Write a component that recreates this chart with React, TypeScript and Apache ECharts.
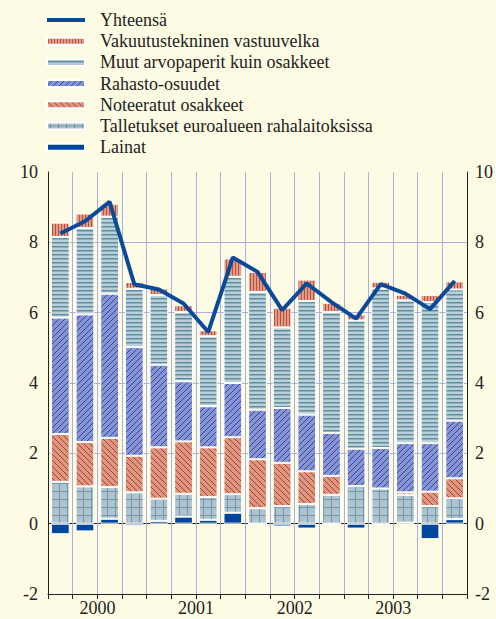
import React, { useEffect, useRef } from 'react';
import * as echarts from 'echarts';

const quarters = [
  '2000Q1', '2000Q2', '2000Q3', '2000Q4',
  '2001Q1', '2001Q2', '2001Q3', '2001Q4',
  '2002Q1', '2002Q2', '2002Q3', '2002Q4',
  '2003Q1', '2003Q2', '2003Q3', '2003Q4',
  '2004Q1',
];
const yearLabels = ['2000', '2001', '2002', '2003'];

const lainat = [-0.3, -0.22, 0.14, -0.07, 0.08, 0.2, 0.11, 0.31, 0, -0.08, -0.14, 0, -0.14, -0.02, 0.03, -0.44, 0.13];
const talletukset = [1.19, 1.06, 0.9, 0.89, 0.63, 0.65, 0.65, 0.53, 0.44, 0.5, 0.56, 0.82, 1.07, 1.0, 0.79, 0.5, 0.59];
const noteeratut = [1.36, 1.26, 1.4, 1.04, 1.46, 1.49, 1.41, 1.62, 1.39, 1.23, 0.93, 0.54, 0, 0, 0.07, 0.41, 0.57];
const rahasto = [3.31, 3.63, 4.1, 3.09, 2.35, 1.71, 1.17, 1.54, 1.41, 1.56, 1.61, 1.22, 1.06, 1.15, 1.4, 1.38, 1.64];
const muut = [2.29, 2.46, 2.19, 1.66, 1.98, 1.97, 1.99, 3.02, 3.35, 2.29, 3.23, 3.44, 3.65, 4.54, 4.06, 4.01, 3.73];
const vakuutus = [0.41, 0.41, 0.37, 0.19, 0.19, 0.19, 0.17, 0.52, 0.57, 0.56, 0.61, 0.26, 0.17, 0.19, 0.16, 0.2, 0.23];
const yhteensa = [8.25, 8.6, 9.15, 6.81, 6.66, 6.26, 5.45, 7.57, 7.16, 6.07, 6.83, 6.3, 5.83, 6.81, 6.54, 6.1, 6.9];

const FONT = 'Liberation Serif, Times New Roman, serif';
const LAV = '#a9afe0';
const INK = '#222222';

function makePattern(w: number, h: number, draw: (ctx: CanvasRenderingContext2D) => void) {
  const c = document.createElement('canvas');
  c.width = w;
  c.height = h;
  const ctx = c.getContext('2d')!;
  draw(ctx);
  return { image: c, repeat: 'repeat' } as any;
}

export default function App() {
  const ref = useRef<HTMLDivElement>(null);

  useEffect(() => {
    const chart = echarts.init(ref.current!, null, { renderer: 'svg' });

    const pVak = makePattern(3, 3, (ctx) => {
      ctx.fillStyle = '#dd9d87';
      ctx.fillRect(0, 0, 3, 3);
      ctx.fillStyle = '#bf4e3e';
      ctx.fillRect(1, 0, 1, 3);
    });
    const pMuut = makePattern(4, 4, (ctx) => {
      ctx.fillStyle = '#bad0d9';
      ctx.fillRect(0, 0, 4, 4);
      ctx.fillStyle = '#5f8d9f';
      ctx.fillRect(0, 2, 4, 1);
      ctx.fillStyle = '#8eafbc';
      ctx.fillRect(0, 3, 4, 1);
    });
    const pRah = makePattern(6, 6, (ctx) => {
      ctx.fillStyle = '#8b93d2';
      ctx.fillRect(0, 0, 6, 6);
      ctx.fillStyle = '#1c4ea6';
      for (let i = 0; i < 6; i++) ctx.fillRect(i, 5 - i, 1, 1);
    });
    const pNot = makePattern(6, 6, (ctx) => {
      ctx.fillStyle = '#dc9781';
      ctx.fillRect(0, 0, 6, 6);
      ctx.fillStyle = '#b23b30';
      for (let i = 0; i < 6; i++) ctx.fillRect(i, i, 1, 1);
    });
    const pTal = makePattern(8, 8, (ctx) => {
      ctx.fillStyle = '#aec3cf';
      ctx.fillRect(0, 0, 8, 8);
      ctx.fillStyle = '#7199a8';
      ctx.fillRect(3, 0, 1, 8);
      ctx.fillRect(0, 3, 8, 1);
    });

    const barBase = {
      type: 'bar',
      stack: 'total',
      barCategoryGap: '24%',
      xAxisIndex: 0,
      yAxisIndex: 0,
    };

    const option: any = {
      animation: false,
      backgroundColor: '#fdfbe3',
      textStyle: { fontFamily: FONT },
      legend: {
        orient: 'vertical',
        left: 46,
        top: 11,
        padding: 0,
        itemWidth: 38,
        itemHeight: 7,
        itemGap: 3.2,
        selectedMode: false,
        textStyle: {
          fontFamily: FONT,
          fontSize: 18,
          lineHeight: 18,
          color: INK,
          padding: [0, 0, 0, 10],
        },
        data: [
          { name: 'Yhteensä', icon: 'path://M0,0L38,0L38,4L0,4Z', itemStyle: { color: '#0b4a99' } },
          { name: 'Vakuutustekninen vastuuvelka', icon: 'rect' },
          { name: 'Muut arvopaperit kuin osakkeet', icon: 'rect' },
          { name: 'Rahasto-osuudet', icon: 'rect' },
          { name: 'Noteeratut osakkeet', icon: 'rect' },
          { name: 'Talletukset euroalueen rahalaitoksissa', icon: 'rect' },
          { name: 'Lainat', icon: 'rect' },
        ],
      },
      grid: { left: 48, right: 25, top: 172, bottom: 25, containLabel: false },
      xAxis: [
        {
          type: 'category',
          data: quarters,
          boundaryGap: true,
          position: 'bottom',
          axisLine: { show: true, onZero: false, lineStyle: { color: INK, width: 1 } },
          axisTick: { show: true, interval: 0, length: 5, lineStyle: { color: INK } },
          axisLabel: {
            interval: 0,
            margin: 5,
            fontFamily: FONT,
            fontSize: 18,
            color: INK,
            padding: [0, 0, 0, 25],
            formatter: (_v: string, i: number) => (i % 4 === 1 ? yearLabels[(i - 1) / 4] || '' : ''),
          },
          splitLine: { show: true, interval: 0, lineStyle: { color: LAV, width: 1 } },
        },
      ],
      yAxis: [
        {
          type: 'value',
          position: 'left',
          min: -2,
          max: 10,
          interval: 2,
          axisLine: { show: true, lineStyle: { color: INK, width: 1 } },
          axisTick: { show: false },
          axisLabel: { margin: 10, fontFamily: FONT, fontSize: 18, color: INK },
          splitLine: {
            show: true,
            lineStyle: {
              color: ['rgba(0,0,0,0)', INK, LAV, LAV, LAV, LAV, 'rgba(0,0,0,0)'],
              width: 1,
            },
          },
        },
        {
          type: 'value',
          position: 'right',
          min: -2,
          max: 10,
          interval: 2,
          axisLine: { show: true, lineStyle: { color: INK, width: 1 } },
          axisTick: { show: false },
          axisLabel: { margin: 8, fontFamily: FONT, fontSize: 18, color: INK },
          splitLine: { show: false },
        },
      ],
      series: [
        {
          ...barBase,
          name: 'Lainat',
          data: lainat,
          itemStyle: { color: '#00479b', borderColor: '#ffffff', borderWidth: 1 },
        },
        {
          ...barBase,
          name: 'Talletukset euroalueen rahalaitoksissa',
          data: talletukset,
          itemStyle: { color: pTal, borderColor: '#ffffff', borderWidth: 1 },
        },
        {
          ...barBase,
          name: 'Noteeratut osakkeet',
          data: noteeratut,
          itemStyle: { color: pNot, borderColor: '#ffffff', borderWidth: 1 },
        },
        {
          ...barBase,
          name: 'Rahasto-osuudet',
          data: rahasto,
          itemStyle: { color: pRah, borderColor: '#ffffff', borderWidth: 1 },
        },
        {
          ...barBase,
          name: 'Muut arvopaperit kuin osakkeet',
          data: muut,
          itemStyle: { color: pMuut, borderColor: '#ffffff', borderWidth: 1 },
        },
        {
          ...barBase,
          name: 'Vakuutustekninen vastuuvelka',
          data: vakuutus,
          itemStyle: { color: pVak, borderColor: '#ffffff', borderWidth: 1 },
        },
        {
          type: 'line',
          name: 'Yhteensä',
          data: yhteensa,
          xAxisIndex: 0,
          yAxisIndex: 0,
          symbol: 'none',
          z: 10,
          lineStyle: { color: '#0b4a99', width: 4 },
          itemStyle: { color: '#0b4a99' },
        },
      ],
    };

    chart.setOption(option);
    return () => chart.dispose();
  }, []);

  return (
    <div
      ref={ref}
      style={{ position: 'absolute', left: 0, top: 0, width: 496, height: 619 }}
    />
  );
}
